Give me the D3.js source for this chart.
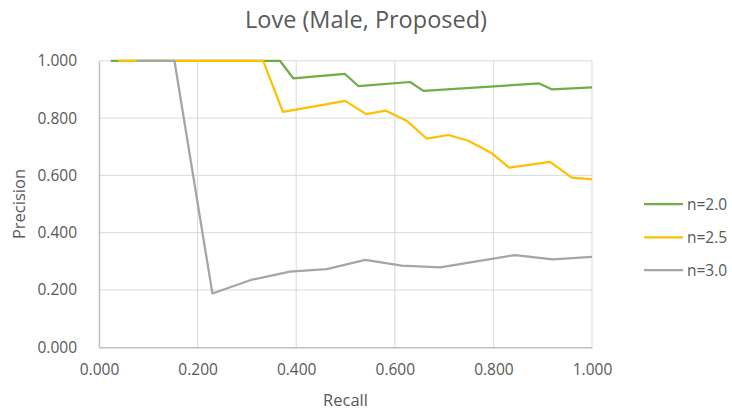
<!DOCTYPE html>
<html><head><meta charset="utf-8">
<script src="https://cdn.jsdelivr.net/npm/d3@7"></script>
<style>body{margin:0;background:#fff;} svg{display:block;font-family:"Open Sans","Liberation Sans",sans-serif;}</style>
</head><body><div id="chart"></div>
<script>
const title = "Love (Male, Proposed)";
const seriesNames = ["n=2.0", "n=2.5", "n=3.0"];
const seriesColors = ["#70ad47", "#ffc000", "#a5a5a5"];
const recall20 = [0.024, 0.367, 0.394, 0.44, 0.499, 0.526, 0.631, 0.658, 0.893, 0.919, 1.0];
const prec20   = [1.0,   1.0,   0.939, 0.946, 0.954, 0.912, 0.926, 0.895, 0.921, 0.900, 0.907];
const recall25 = [0.039, 0.333, 0.373, 0.46, 0.499, 0.542, 0.582, 0.624, 0.665, 0.709, 0.749, 0.797, 0.832, 0.915, 0.959, 1.0];
const prec25   = [1.0,   1.0,   0.822, 0.848, 0.860, 0.814, 0.826, 0.791, 0.728, 0.741, 0.721, 0.677, 0.627, 0.647, 0.592, 0.586];
const recall30 = [0.076, 0.153, 0.230, 0.308, 0.387, 0.462, 0.540, 0.614, 0.692, 0.844, 0.920, 1.0];
const prec30   = [1.0,   1.0,   0.188, 0.235, 0.264, 0.273, 0.305, 0.285, 0.279, 0.322, 0.307, 0.316];
const xTicks = [0, 0.2, 0.4, 0.6, 0.8, 1.0];
const yTicks = [0, 0.2, 0.4, 0.6, 0.8, 1.0];
const xTitle = "Recall", yTitle = "Precision";

const series = [
  {name: seriesNames[0], color: seriesColors[0], xs: recall20, ys: prec20},
  {name: seriesNames[1], color: seriesColors[1], xs: recall25, ys: prec25},
  {name: seriesNames[2], color: seriesColors[2], xs: recall30, ys: prec30}
];

const W = 732, H = 414;
const svg = d3.select("#chart").append("svg").attr("width", W).attr("height", H);
const x = d3.scaleLinear().domain([0, 1]).range([99, 592]);
const y = d3.scaleLinear().domain([0, 1]).range([347.3, 60.8]);

// gridlines
svg.append("g").selectAll("line").data(yTicks.filter(d => d > 0)).join("line")
  .attr("x1", x(0)).attr("x2", x(1)).attr("y1", d => y(d)).attr("y2", d => y(d))
  .attr("stroke", "#d9d9d9").attr("stroke-width", 1);
svg.append("g").selectAll("line").data(xTicks.filter(d => d > 0)).join("line")
  .attr("y1", y(0)).attr("y2", y(1)).attr("x1", d => x(d)).attr("x2", d => x(d))
  .attr("stroke", "#d9d9d9").attr("stroke-width", 1);

// axes
const xAxis = d3.axisBottom(x).tickValues(xTicks).tickFormat(d3.format(".3f")).tickSize(0).tickPadding(17);
const gx = svg.append("g").attr("transform", `translate(0,${y(0)})`).call(xAxis);
gx.select(".domain").attr("stroke", "#bfbfbf").attr("stroke-width", 1.5);
gx.selectAll("text").attr("fill", "#595959").style("font-size", "15.5px").style("font-family", "'Open Sans'");
const yAxis = d3.axisLeft(y).tickValues(yTicks).tickFormat(d3.format(".3f")).tickSize(0).tickPadding(22);
const gy = svg.append("g").attr("transform", `translate(${x(0)},0)`).call(yAxis);
gy.select(".domain").attr("stroke", "#bfbfbf").attr("stroke-width", 1.5);
gy.selectAll("text").attr("fill", "#595959").style("font-size", "15.5px").style("font-family", "'Open Sans'");

// lines
const line = d3.line().x(d => x(d[0])).y(d => y(d[1]));
series.forEach(s => {
  svg.append("path").datum(s.xs.map((v, i) => [v, s.ys[i]]))
    .attr("d", line).attr("fill", "none").attr("stroke", s.color)
    .attr("stroke-width", 2.25).attr("stroke-linejoin", "round");
});

// titles
svg.append("text").attr("x", 366).attr("y", 28).attr("text-anchor", "middle")
  .attr("fill", "#595959").style("font-size", "23.5px").text(title);
svg.append("text").attr("x", x(0.5)).attr("y", 406).attr("text-anchor", "middle")
  .attr("fill", "#595959").style("font-size", "16.5px").text(xTitle);
svg.append("text").attr("transform", `translate(25,${y(0.5)}) rotate(-90)`).attr("text-anchor", "middle")
  .attr("fill", "#595959").style("font-size", "16.5px").text(yTitle);

// legend
const legY = [204, 237.3, 270];
series.forEach((s, i) => {
  svg.append("line").attr("x1", 644).attr("x2", 683).attr("y1", legY[i]).attr("y2", legY[i])
    .attr("stroke", s.color).attr("stroke-width", 2.25);
  svg.append("text").attr("x", 687).attr("y", legY[i] + 5.5).attr("fill", "#595959")
    .style("font-size", "15.5px").text(s.name);
});
</script></body></html>
